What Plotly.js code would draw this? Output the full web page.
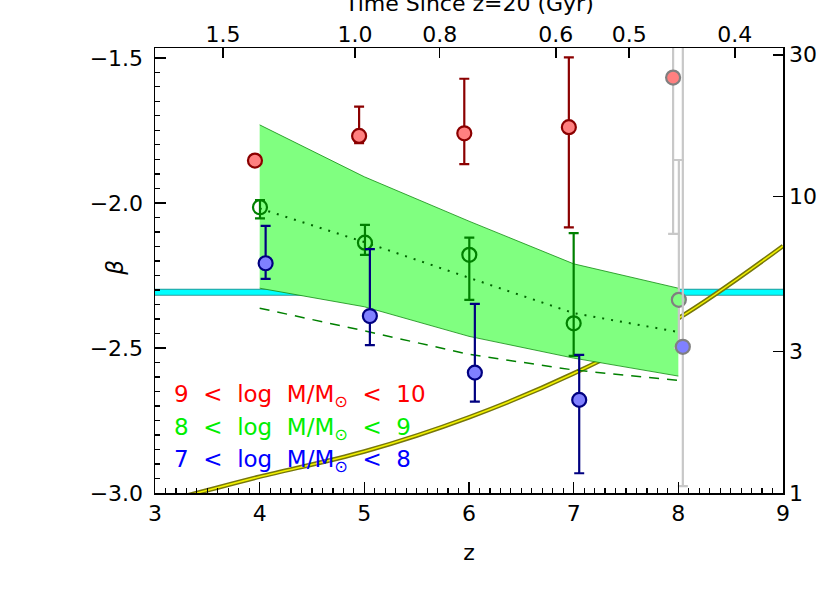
<!DOCTYPE html>
<html>
<head>
<meta charset="utf-8">
<script src="https://cdn.plot.ly/plotly-3.0.1.min.js"></script>
<style>
  html, body { margin: 0; padding: 0; background: white; }
  #chart { width: 830px; height: 593px; }
</style>
</head>
<body>
<div id="chart"></div>
<script>
// --- data ---
// 9 < log M < 10 (red)
const redZ = [3.955, 4.95, 5.955, 6.954];
const redBeta = [-1.854, -1.769, -1.760, -1.739];
const redHi = [-1.854, -1.668, -1.572, -1.498];
const redLo = [-1.854, -1.794, -1.866, -2.084];

// 8 < log M < 9 (green, open)
const greenZ = [4.003, 5.006, 6.003, 7.0];
const greenBeta = [-2.015, -2.137, -2.179, -2.415];
const greenHi = [-1.99, -2.076, -2.120, -2.104];
const greenLo = [-2.053, -2.179, -2.334, -2.527];

// 7 < log M < 8 (blue)
const blueZ = [4.057, 5.053, 6.056, 7.053];
const blueBeta = [-2.208, -2.390, -2.585, -2.679];
const blueHi = [-2.079, -2.159, -2.348, -2.524];
const blueLo = [-2.262, -2.490, -2.685, -2.932];

// z~8 points (grey error bars)
const greyZ = [7.95, 8.005, 8.043];
const greyBeta = [-1.568, -2.334, -2.496];
const greyHi = [-1.2, -1.852, -1.2];
const greyLo = [-2.107, -2.5, -2.976];

// model band, median (dotted) and dashed curve
const bandZ = [4, 5, 6, 7, 8];
const bandHi = [-1.731, -1.91, -2.063, -2.21, -2.294];
const bandLo = [-2.294, -2.358, -2.46, -2.535, -2.597];
const medianBeta = [-2.019, -2.135, -2.258, -2.38, -2.445];
const dashedBeta = [-2.363, -2.441, -2.522, -2.576, -2.612];

// horizontal cyan level
const cyanZ = [3, 9];
const cyanBeta = [-2.308, -2.308];

// yellow curve, right (log) axis
const yellowZ = [3.0, 3.4, 4, 5, 6, 7, 8, 9];
const yellowVal = [0.92, 1.0, 1.135, 1.38, 1.80, 2.53, 3.88, 6.8];

// axes
const zTicks = [3, 4, 5, 6, 7, 8, 9];
const betaTicks = [-3.0, -2.5, -2.0, -1.5];
const betaRange = [-3.0, -1.466];
const rightTicks = [1, 3, 10, 30];
const topTickZ = [3.65, 4.91, 5.72, 6.83, 7.53, 8.54];
const topTickLabels = ['1.5', '1.0', '0.8', '0.6', '0.5', '0.4'];

const FONT = 'DejaVu Sans';
const SP = '\u00a0 ';  // wide gaps like the original lettering

const diff = (a, b) => a.map((v, i) => v - b[i]);

function pts(z, beta, hi, lo, fill, edge, barColor) {
  return {
    x: z, y: beta, xaxis: 'x', yaxis: 'y3',
    mode: 'markers', type: 'scatter', hoverinfo: 'skip',
    marker: { size: 14, color: fill, line: { color: edge, width: 2.2 } },
    error_y: {
      type: 'data', symmetric: false,
      array: diff(hi, beta), arrayminus: diff(beta, lo),
      color: barColor, thickness: 2.2, width: 5
    }
  };
}

const data = [
  // cyan level (bottom layer)
  { x: cyanZ, y: cyanBeta, xaxis: 'x', yaxis: 'y', mode: 'lines', line: { color: '#2a9a9a', width: 7 }, hoverinfo: 'skip' },
  { x: cyanZ, y: cyanBeta, xaxis: 'x', yaxis: 'y', mode: 'lines', line: { color: '#00ffff', width: 5 }, hoverinfo: 'skip' },
  // yellow curve on the right axis
  { x: yellowZ, y: yellowVal, xaxis: 'x', yaxis: 'y2', mode: 'lines', line: { color: '#77770a', width: 4.5, shape: 'spline' }, hoverinfo: 'skip' },
  { x: yellowZ, y: yellowVal, xaxis: 'x', yaxis: 'y2', mode: 'lines', line: { color: '#f2f200', width: 1.6, shape: 'spline' }, hoverinfo: 'skip' },
  // dummy for top axis
  { x: [3], y: [-3], xaxis: 'x2', yaxis: 'y', mode: 'markers', marker: { opacity: 0 }, hoverinfo: 'skip' },
  // green band
  { x: bandZ, y: bandLo, xaxis: 'x', yaxis: 'y3', mode: 'lines', line: { color: '#108a10', width: 0.8 }, hoverinfo: 'skip' },
  { x: bandZ, y: bandHi, xaxis: 'x', yaxis: 'y3', mode: 'lines', fill: 'tonexty', fillcolor: '#80ff80', line: { color: '#108a10', width: 0.8 }, hoverinfo: 'skip' },
  { x: bandZ, y: medianBeta, xaxis: 'x', yaxis: 'y3', mode: 'lines', line: { color: '#006400', width: 2, dash: '2px,7px' }, hoverinfo: 'skip' },
  { x: bandZ, y: dashedBeta, xaxis: 'x', yaxis: 'y3', mode: 'lines', line: { color: '#008000', width: 1.5, dash: '10px,8px' }, hoverinfo: 'skip' },
  // grey z~8 points
  pts([greyZ[0]], [greyBeta[0]], [greyHi[0]], [greyLo[0]], '#ff8080', '#808080', '#c8c8c8'),
  pts([greyZ[1]], [greyBeta[1]], [greyHi[1]], [greyLo[1]], '#80ff80', '#808080', '#c8c8c8'),
  pts([greyZ[2]], [greyBeta[2]], [greyHi[2]], [greyLo[2]], '#8080ff', '#808080', '#c8c8c8'),
  // mass bins
  pts(redZ, redBeta, redHi, redLo, '#ff8080', '#8b0000', '#8b0000'),
  pts(greenZ, greenBeta, greenHi, greenLo, 'rgba(0,0,0,0)', '#008000', '#008000'),
  pts(blueZ, blueBeta, blueHi, blueLo, '#8080ff', '#000080', '#000080')
];

const axisCommon = {
  showgrid: false, zeroline: false, showline: true,
  linecolor: 'black', linewidth: 1.5,
  ticks: 'inside', tickcolor: 'black', tickwidth: 1.5,
  tickfont: { family: FONT, size: 22, color: 'black' }
};

const legendLines = [
  { text: '9' + SP + '&lt;' + SP + 'log' + SP + 'M/M<sub>⊙</sub>' + SP + '&lt;' + SP + '10', color: '#ff0000', y: 0.218 },
  { text: '8' + SP + '&lt;' + SP + 'log' + SP + 'M/M<sub>⊙</sub>' + SP + '&lt;' + SP + '9', color: '#00ee00', y: 0.144 },
  { text: '7' + SP + '&lt;' + SP + 'log' + SP + 'M/M<sub>⊙</sub>' + SP + '&lt;' + SP + '8', color: '#0000ff', y: 0.072 }
];

const layout = {
  width: 830, height: 593,
  margin: { l: 155, r: 47, t: 48, b: 100 },
  paper_bgcolor: 'white', plot_bgcolor: 'white',
  font: { family: FONT, size: 22, color: 'black' },
  showlegend: false,
  xaxis: Object.assign({}, axisCommon, {
    range: [3, 9], tickvals: zTicks, ticklen: 11,
    minor: { dtick: 0.1, tick0: 3, ticks: 'inside', ticklen: 5, tickwidth: 1.2, tickcolor: 'black' },
    title: { text: 'z', font: { family: FONT, size: 22 }, standoff: 19 }
  }),
  xaxis2: Object.assign({}, axisCommon, {
    overlaying: 'x', side: 'top', range: [3, 9],
    tickvals: topTickZ, ticktext: topTickLabels, ticklen: 10, ticklabelstandoff: -4
  }),
  yaxis: Object.assign({}, axisCommon, {
    side: 'left', range: betaRange,
    tickvals: betaTicks, tickformat: '.1f', ticklen: 11, ticklabelstandoff: 6,
    minor: { dtick: 0.05, tick0: -3, ticks: 'inside', ticklen: 5, tickwidth: 1.2, tickcolor: 'black' }
  }),
  yaxis2: Object.assign({}, axisCommon, {
    overlaying: 'y', side: 'right', type: 'log', range: [0, 1.5],
    tickvals: rightTicks, ticktext: rightTicks.map(String), ticklen: 10
  }),
  yaxis3: {
    overlaying: 'y', side: 'left', range: betaRange, visible: false,
    showgrid: false, zeroline: false
  },
  annotations: legendLines.map(l => ({
    xref: 'paper', yref: 'paper', x: 0.027, y: l.y, xanchor: 'left', yanchor: 'middle',
    text: l.text, showarrow: false, font: { family: FONT, size: 23, color: l.color }
  })).concat([
    {
      xref: 'paper', yref: 'paper', x: 0.5, y: 1.101, xanchor: 'center', yanchor: 'middle',
      text: 'Time Since z=20 (Gyr)', showarrow: false, font: { family: FONT, size: 22, color: 'black' }
    },
    {
      xref: 'paper', yref: 'paper', x: -0.064, y: 0.506, xanchor: 'center', yanchor: 'middle',
      text: '<i>β</i>', textangle: -90, showarrow: false, font: { family: FONT, size: 23, color: 'black' }
    }
  ])
};

Plotly.newPlot('chart', data, layout, { displayModeBar: false, staticPlot: true });
</script>
</body>
</html>
